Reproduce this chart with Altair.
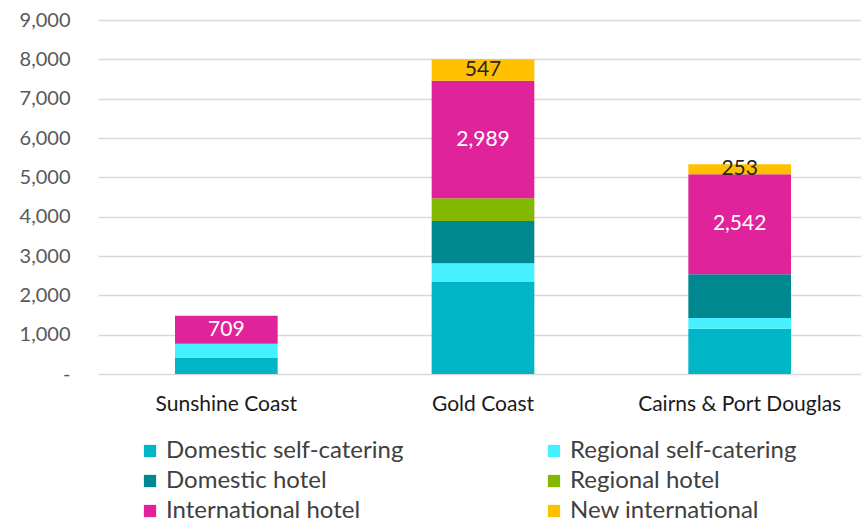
import altair as alt
import pandas as pd

regions = ["Sunshine Coast", "Gold Coast", "Cairns & Port Douglas"]
series = ["Domestic self-catering", "Regional self-catering", "Domestic hotel",
          "Regional hotel", "International hotel", "New international"]
colors = ["#00B5C5", "#46F0FF", "#008891", "#84B800", "#E0239B", "#FFC000"]

dom_self = [421, 2350, 1150]
reg_self = [348, 467, 271]
dom_hotel = [0, 1074, 1117]
reg_hotel = [0, 576, 0]
intl_hotel = [709, 2989, 2542]
new_intl = [0, 547, 253]

values = [dom_self, reg_self, dom_hotel, reg_hotel, intl_hotel, new_intl]
label_series = ["International hotel", "New international"]
label_colors = {"International hotel": "white", "New international": "#262626"}

rows = []
for si, (s, vals) in enumerate(zip(series, values)):
    for r, v in zip(regions, vals):
        rows.append({"region": r, "series": s, "idx": si, "value": v,
                     "labcol": label_colors.get(s, "black")})
df = pd.DataFrame(rows)

FONT = "Lato"

x_axis = alt.Axis(labelAngle=0, labelFontSize=21, labelColor="#1a1a1a",
                  labelFont=FONT, labelPadding=19, ticks=False, domain=False,
                  grid=False, labelLimit=400)
y_axis = alt.Axis(values=list(range(0, 9001, 1000)), labelOverlap=False,
                  tickCount=10,
                  labelExpr="datum.value == 0 ? '-\u00a0\u00a0\u00a0\u00a0' : format(datum.value, ',')",
                  labelFontSize=20, labelColor="#595959", labelFont=FONT,
                  labelPadding=28, ticks=False, domain=False,
                  gridColor="#D9D9D9", gridWidth=1.5)
x_scale = alt.Scale(paddingInner=0.6, paddingOuter=0.3, range=[0, 770])
y_scale = alt.Scale(domain=[0, 9000], nice=False)

base = alt.Chart(df)

bars = base.mark_bar().encode(
    x=alt.X("region:N", sort=regions, title=None, scale=x_scale, axis=x_axis),
    y=alt.Y("value:Q", stack="zero", title=None, scale=y_scale, axis=y_axis),
    color=alt.Color("series:N", sort=series,
                    scale=alt.Scale(domain=series, range=colors),
                    legend=alt.Legend(orient="none", legendX=40, legendY=419,
                                      columns=2, direction="horizontal",
                                      title=None, symbolType="square",
                                      symbolSize=150, symbolStrokeWidth=0,
                                      labelFontSize=24, labelFont=FONT,
                                      labelColor="#404040", columnPadding=138,
                                      rowPadding=6, labelLimit=400, symbolOffset=0,
                                      labelOffset=4)),
    order=alt.Order("idx:Q", sort="ascending"),
)

labels = base.transform_stack(
    stack="value", groupby=["region"], as_=["y0", "y1"],
    sort=[alt.SortField("idx", order="ascending")]
).transform_filter(
    alt.FieldOneOfPredicate(field="series", oneOf=label_series)
).transform_filter(
    "datum.value > 0"
).transform_calculate(
    mid="(datum.y0 + datum.y1) / 2"
).mark_text(fontSize=21, font=FONT, baseline="middle").encode(
    x=alt.X("region:N", sort=regions, title=None, scale=x_scale, axis=x_axis),
    y=alt.Y("mid:Q", title=None, scale=y_scale, axis=y_axis),
    text=alt.Text("value:Q", format=","),
    color=alt.Color("labcol:N", scale=None),
)

chart = alt.layer(bars, labels).properties(
    width=763, height=354,
    autosize=alt.AutoSizeParams(type="none"),
    padding={"left": 98, "top": 20, "right": 0, "bottom": 148},
).configure_view(stroke=None)

chart.save("out.html", embed_options={"renderer": "svg", "actions": False})
